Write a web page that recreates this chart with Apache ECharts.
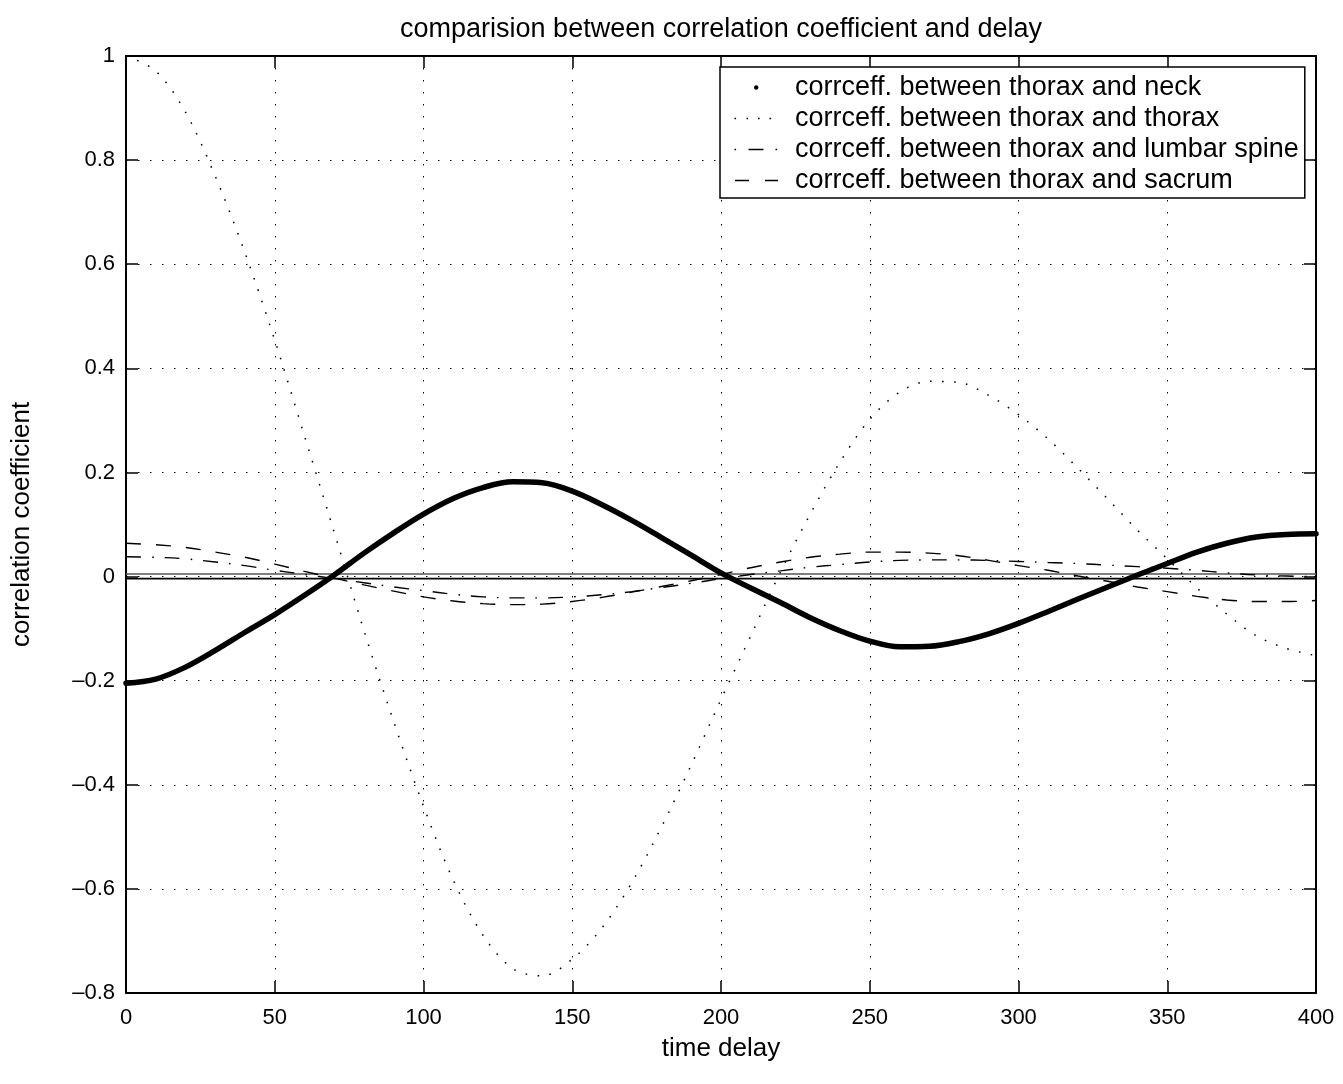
<!DOCTYPE html>
<html><head><meta charset="utf-8">
<script src="https://cdn.jsdelivr.net/npm/echarts@6/dist/echarts.min.js"></script>
<style>html,body{margin:0;padding:0;background:#fff}#c{width:1343px;height:1084px}</style>
</head><body><div id="c"></div>
<script>
const delays = [0,10,20,30,40,50,60,70,80,90,100,110,120,130,140,150,160,170,180,190,200,210,220,230,240,250,260,270,280,290,300,310,320,330,340,350,360,370,380,390,400];
const neck = [-0.205,-0.197,-0.174,-0.142,-0.107,-0.073,-0.036,0.003,0.045,0.084,0.120,0.150,0.171,0.182,0.180,0.164,0.138,0.108,0.075,0.041,0.007,-0.022,-0.050,-0.079,-0.104,-0.124,-0.135,-0.134,-0.125,-0.110,-0.090,-0.067,-0.043,-0.020,0.003,0.025,0.047,0.064,0.076,0.081,0.082];
const thorax = [1.0,0.971,0.892,0.769,0.622,0.454,0.270,0.085,-0.104,-0.279,-0.441,-0.583,-0.689,-0.753,-0.767,-0.735,-0.675,-0.588,-0.481,-0.362,-0.236,-0.114,0.009,0.120,0.220,0.302,0.354,0.375,0.373,0.348,0.311,0.264,0.208,0.149,0.089,0.034,-0.022,-0.072,-0.114,-0.138,-0.152];
const lumbar = [0.038,0.037,0.034,0.028,0.021,0.012,0.004,-0.004,-0.012,-0.020,-0.027,-0.034,-0.039,-0.041,-0.041,-0.039,-0.035,-0.029,-0.021,-0.013,-0.004,0.004,0.011,0.018,0.023,0.028,0.031,0.032,0.032,0.031,0.029,0.027,0.025,0.022,0.019,0.016,0.012,0.007,0.003,0.001,0.000];
const sacrum = [0.064,0.061,0.056,0.047,0.037,0.024,0.010,-0.003,-0.016,-0.028,-0.039,-0.047,-0.052,-0.054,-0.053,-0.048,-0.040,-0.030,-0.019,-0.008,0.004,0.017,0.028,0.037,0.043,0.047,0.047,0.045,0.040,0.031,0.021,0.012,0.001,-0.009,-0.020,-0.029,-0.038,-0.045,-0.048,-0.048,-0.046];
const refUpper = 0.005;
const refLower = -0.004;
const seriesNames = ['corrceff. between thorax and neck','corrceff. between thorax and thorax','corrceff. between thorax and lumbar spine','corrceff. between thorax and sacrum'];
const titleText = 'comparision between correlation coefficient and delay';
const xName = 'time delay';
const yName = 'correlation coefficient';

const FONT = '"Liberation Sans", Arial, Helvetica, sans-serif';
const pairs = arr => delays.map((d, i) => [d, arr[i]]);
const fmt = v => String(+(+v).toFixed(2)).replace('-', '\u2013');
const span = [delays[0], delays[delays.length - 1]];

// legend icons (44 x 26 box)
const BOX = 'M0,0M44,26';
const rect = (x, w, h) => `M${x},${13 - h / 2}h${w}v${h}h${-w}z`;
const iconDot = 'path://' + BOX + 'M20,13a2.2,2.2 0 1,0 4.4,0a2.2,2.2 0 1,0 -4.4,0z';
const iconDotted = 'path://' + BOX + rect(0.5, 1.6, 1.6) + rect(12.5, 1.6, 1.6) + rect(24, 1.6, 1.6) + rect(35.5, 1.6, 1.6);
const iconDashDot = 'path://' + BOX + rect(0.5, 1.6, 1.6) + rect(14.5, 15, 1.4) + rect(41.5, 1.6, 1.6);
const iconDashed = 'path://' + BOX + rect(1, 14, 1.4) + rect(31, 13, 1.4);

const chart = echarts.init(document.getElementById('c'), null, {renderer: 'canvas'});
const tickCommon = {inside: true, length: 12, lineStyle: {color: '#000', width: 1.5}};
const lineCommon = {show: true, onZero: false, lineStyle: {color: '#000', width: 2}};
const gridDots = {show: true, lineStyle: {color: '#000', width: 1, type: [1.5, 10.5]}};
chart.setOption({
  animation: false,
  backgroundColor: '#fff',
  textStyle: {fontFamily: FONT},
  title: {
    text: titleText, left: 721, top: 16, textAlign: 'center', padding: 0,
    textStyle: {fontFamily: FONT, fontSize: 27, fontWeight: 'normal', color: '#000'}
  },
  grid: {left: 126, right: 27, top: 56, bottom: 91, containLabel: false, outerBoundsMode: 'none'},
  legend: {
    orient: 'vertical', left: 720, top: 67,
    backgroundColor: '#fff', borderColor: '#000', borderWidth: 1.5, borderRadius: 0,
    padding: [7, 6, 4, 14], itemWidth: 44, itemHeight: 26, itemGap: 4,
    textStyle: {fontFamily: FONT, fontSize: 27, lineHeight: 26, color: '#000', padding: [0, 0, 0, 12]},
    data: [
      {name: seriesNames[0], icon: iconDot},
      {name: seriesNames[1], icon: iconDotted},
      {name: seriesNames[2], icon: iconDashDot},
      {name: seriesNames[3], icon: iconDashed}
    ]
  },
  xAxis: [
    {type: 'value', min: 0, max: 400, interval: 50, position: 'bottom',
     name: xName, nameLocation: 'middle', nameGap: 43,
     nameTextStyle: {fontFamily: FONT, fontSize: 26, color: '#000'},
     axisLine: lineCommon, axisTick: tickCommon, splitLine: gridDots,
     axisLabel: {color: '#000', fontSize: 22, fontFamily: FONT, margin: 14, formatter: fmt, showMinLabel: true, showMaxLabel: true}},
    {type: 'value', min: 0, max: 400, interval: 50, position: 'top',
     axisLine: lineCommon, axisTick: tickCommon, splitLine: {show: false}, axisLabel: {show: false}}
  ],
  yAxis: [
    {type: 'value', min: -0.8, max: 1, interval: 0.2, position: 'left',
     name: yName, nameLocation: 'middle', nameGap: 91, nameRotate: 90,
     nameTextStyle: {fontFamily: FONT, fontSize: 26, color: '#000'},
     axisLine: lineCommon, axisTick: tickCommon, splitLine: gridDots,
     axisLabel: {color: '#000', fontSize: 22, fontFamily: FONT, margin: 11, formatter: fmt, showMinLabel: true, showMaxLabel: true}},
    {type: 'value', min: -0.8, max: 1, interval: 0.2, position: 'right',
     axisLine: lineCommon, axisTick: tickCommon, splitLine: {show: false}, axisLabel: {show: false}}
  ],
  series: [
    {name: 'refUpper', type: 'line', data: [[span[0], refUpper], [span[1], refUpper]], symbol: 'none', silent: true,
     lineStyle: {color: '#555', width: 1.6}, z: 1},
    {name: 'refLower', type: 'line', data: [[span[0], refLower], [span[1], refLower]], symbol: 'none', silent: true,
     lineStyle: {color: '#000', width: 1.6}, z: 1},
    {name: seriesNames[1], type: 'line', data: pairs(thorax), symbol: 'none', smooth: 0.33,
     lineStyle: {color: '#000', width: 1.5, type: [1.6, 10.4]}, itemStyle: {color: '#000'}, z: 2},
    {name: seriesNames[2], type: 'line', data: pairs(lumbar), symbol: 'none', smooth: 0.35,
     lineStyle: {color: '#000', width: 1.4, type: [15, 11, 1.6, 11]}, itemStyle: {color: '#000'}, z: 2},
    {name: seriesNames[3], type: 'line', data: pairs(sacrum), symbol: 'none', smooth: 0.35,
     lineStyle: {color: '#000', width: 1.4, type: [15, 15]}, itemStyle: {color: '#000'}, z: 2},
    {name: seriesNames[0], type: 'line', data: pairs(neck), symbol: 'none', smooth: 0.35,
     lineStyle: {color: '#000', width: 5.5, join: 'round', cap: 'round'}, itemStyle: {color: '#000'}, z: 3}
  ]
});
</script>
</body></html>
